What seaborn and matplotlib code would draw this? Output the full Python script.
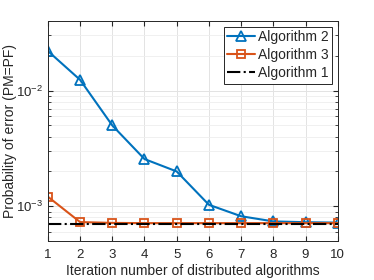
import numpy as np
import pandas as pd
import matplotlib
matplotlib.use('Agg')
import matplotlib.pyplot as plt
import seaborn as sns

# Data
iterations = [1, 2, 3, 4, 5, 6, 7, 8, 9, 10]
alg2 = [0.022, 0.0124, 0.0050, 0.00256, 0.0020, 0.00103, 0.00082, 0.00074, 0.000728, 0.000722]
alg3 = [0.00121, 0.00073, 0.000718, 0.000715, 0.000715, 0.000715, 0.000715, 0.000715, 0.000715, 0.000715]
alg1 = [0.000705] * 10

sns.set_style('ticks')
plt.rcParams['font.family'] = ['Liberation Sans', 'DejaVu Sans']
plt.rcParams['mathtext.fontset'] = 'custom'
plt.rcParams['mathtext.rm'] = 'Liberation Sans'

df = pd.DataFrame({
    'iter': iterations * 3,
    'pe': alg2 + alg3 + alg1,
    'alg': ['Algorithm 2'] * 10 + ['Algorithm 3'] * 10 + ['Algorithm 1'] * 10,
})

fig = plt.figure(figsize=(3.74, 2.8), dpi=100)
ax = fig.add_axes([0.128, 0.139, 0.775, 0.786])

blue = '#0072BD'
orange = '#D95319'

sns.lineplot(data=df[df.alg == 'Algorithm 2'], x='iter', y='pe', ax=ax, color=blue,
             marker='^', markersize=7, markerfacecolor='none', markeredgecolor=blue,
             markeredgewidth=1.3, linewidth=1.5, label='Algorithm 2')
sns.lineplot(data=df[df.alg == 'Algorithm 3'], x='iter', y='pe', ax=ax, color=orange,
             marker='s', markersize=5.5, markerfacecolor='none', markeredgecolor=orange,
             markeredgewidth=1.3, linewidth=1.5, label='Algorithm 3')
sns.lineplot(data=df[df.alg == 'Algorithm 1'], x='iter', y='pe', ax=ax, color='black',
             linestyle='-.', linewidth=1.5, label='Algorithm 1')

ax.set_yscale('log')
ax.set_xlim(1, 10)
ax.set_ylim(5e-4, 4e-2)
ax.set_xticks(iterations)

ax.grid(True, which='major', color='#e3e3e3', linewidth=0.7)
ax.grid(True, which='minor', axis='y', color='#eeeeee', linewidth=0.6)
ax.set_axisbelow(True)

ax.tick_params(which='both', direction='in', top=True, right=True, labelsize=9.5, colors='#262626')
ax.tick_params(which='major', length=3.5)
ax.tick_params(which='minor', length=2)
ax.tick_params(axis='x', which='major', pad=6)
ax.tick_params(axis='y', which='major', pad=3.5)
for s in ax.spines.values():
    s.set_color('#262626')
    s.set_linewidth(0.7)

ax.set_xlabel('Iteration number of distributed algorithms', fontsize=10, color='#262626', labelpad=2)
ax.set_ylabel('Probability of error (PM=PF)', fontsize=10, color='#262626')
ax.yaxis.set_label_coords(-0.105, 0.5)

leg = ax.legend(loc='upper right', fontsize=10, fancybox=False, framealpha=1,
                edgecolor='#262626', borderpad=0.25, labelspacing=0.3,
                handlelength=2.0, handletextpad=0.2, borderaxespad=0.4)
leg.get_frame().set_linewidth(0.7)

fig.savefig('out.png', dpi=100)
